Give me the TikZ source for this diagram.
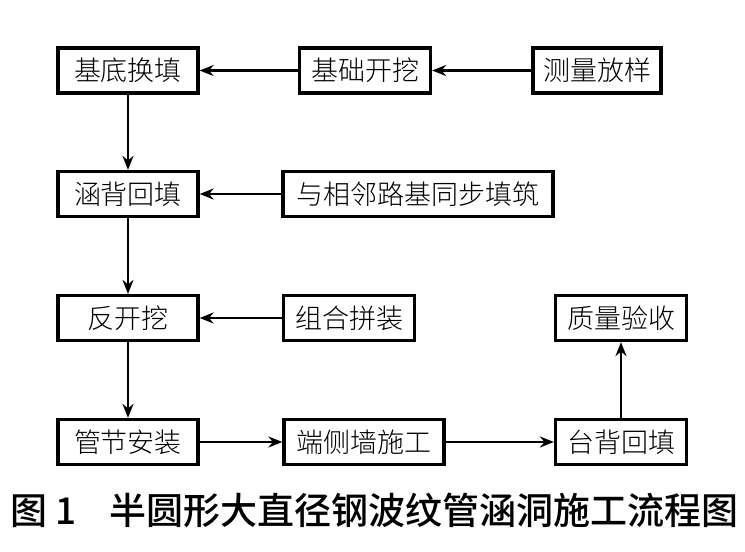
\documentclass[tikz,border=0pt]{standalone}
\usepackage{fontspec}
\newfontfamily\cjk{Noto Sans CJK SC}[UprightFont={* Light}]
\newfontfamily\capfont{Noto Sans CJK SC}[UprightFont={* Medium}]
\usetikzlibrary{arrows.meta}
\begin{document}
\begin{tikzpicture}[x=1pt,y=-1pt,
  box/.style={draw,line width=3.2pt,minimum height=45pt,inner sep=0pt,font=\cjk\fontsize{27}{27}\selectfont},
  arr/.style={line width=2.8pt,-{Stealth[length=14pt,width=11pt]}}]
\useasboundingbox (0,0) rectangle (745,552);
\fill[white] (0,0) rectangle (745,552);
\node[box,minimum width=140pt] (a1) at (128,70.5) {基底换填};
\node[box,minimum width=131pt] (a2) at (365,70.5) {基础开挖};
\node[box,minimum width=128pt] (a3) at (597,70.5) {测量放样};
\node[box,minimum width=140pt] (b1) at (128,194) {涵背回填};
\node[box,minimum width=270pt] (b2) at (418,194) {与相邻路基同步填筑};
\node[box,minimum width=140pt] (c1) at (128,318) {反开挖};
\node[box,minimum width=131pt] (c2) at (349,318) {组合拼装};
\node[box,minimum width=131pt] (c3) at (621,318) {质量验收};
\node[box,minimum width=140pt] (d1) at (128,442) {管节安装};
\node[box,minimum width=160pt] (d2) at (364,442) {端侧墙施工};
\node[box,minimum width=131pt] (d3) at (621,442) {台背回填};
\node[font=\capfont\fontsize{37}{37}\selectfont,inner sep=0pt,anchor=west] (cap) at (10,510) {图\hspace{8pt}1\hspace{33pt}半圆形大直径钢波纹管涵洞施工流程图};
\draw[arr] (a3) -- (a2);
\draw[arr] (a2) -- (a1);
\draw[arr] (a1) -- (b1);
\draw[arr] (b2) -- (b1);
\draw[arr] (b1) -- (c1);
\draw[arr] (c2) -- (c1);
\draw[arr] (c1) -- (d1);
\draw[arr] (d1) -- (d2);
\draw[arr] (d2) -- (d3);
\draw[arr] (d3) -- (c3);
\end{tikzpicture}
\end{document}
